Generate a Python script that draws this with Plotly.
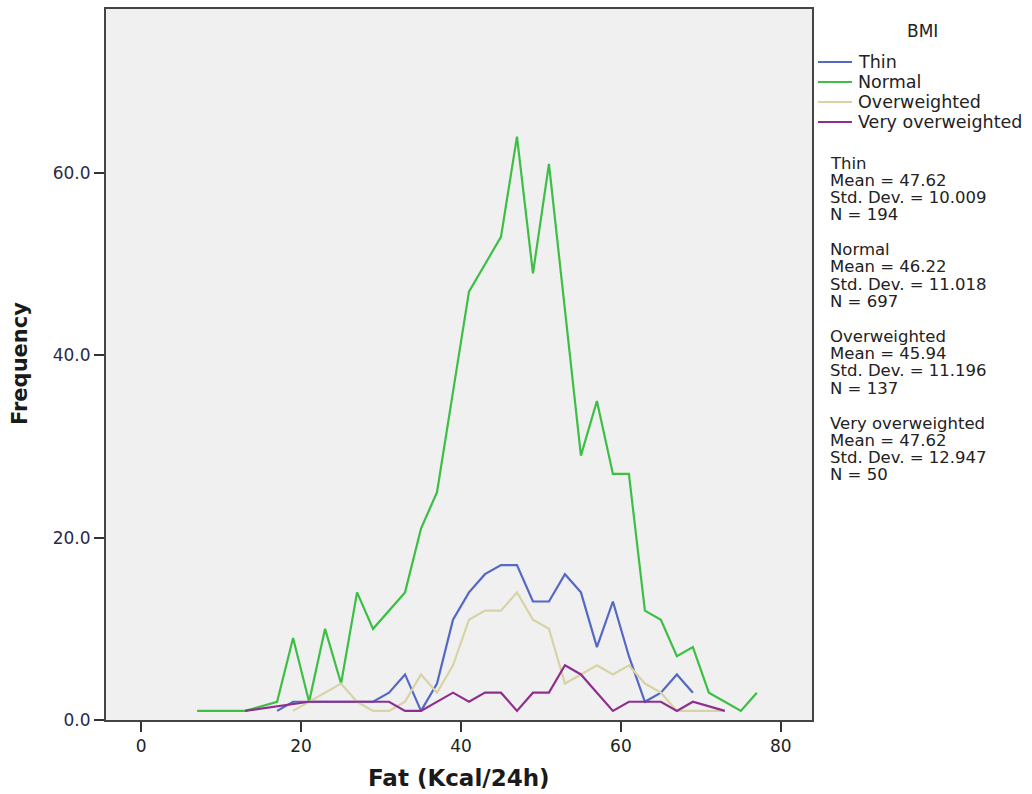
import plotly.graph_objects as go

# ---------------- data ----------------
series_names = ["Thin", "Normal", "Overweighted", "Very overweighted"]
series_colors = ["#5468C4", "#3CBF44", "#D8D3A6", "#8E2F8E"]

thin_x = [17, 19, 21, 27, 29, 31, 33, 35, 37, 39, 41, 43, 45, 47, 49, 51, 53, 55, 57, 59, 61, 63, 65, 67, 69]
thin_y = [1, 2, 2, 2, 2, 3, 5, 1, 4, 11, 14, 16, 17, 17, 13, 13, 16, 14, 8, 13, 7, 2, 3, 5, 3]

normal_x = [7, 9, 11, 13, 17, 19, 21, 23, 25, 27, 29, 31, 33, 35, 37, 39, 41, 43, 45, 47, 49, 51, 53,
            55, 57, 59, 61, 63, 65, 67, 69, 71, 73, 75, 77]
normal_y = [1, 1, 1, 1, 2, 9, 2, 10, 4, 14, 10, 12, 14, 21, 25, 36, 47, 50, 53, 64, 49, 61, 45,
            29, 35, 27, 27, 12, 11, 7, 8, 3, 2, 1, 3]

over_x = [19, 21, 23, 25, 27, 29, 31, 33, 35, 37, 39, 41, 43, 45, 47, 49, 51, 53, 55, 57, 59, 61, 63,
          65, 67, 69, 71, 73]
over_y = [1, 2, 3, 4, 2, 1, 1, 2, 5, 3, 6, 11, 12, 12, 14, 11, 10, 4, 5, 6, 5, 6, 4, 3, 1, 1, 1, 1]

very_x = [13, 21, 31, 33, 35, 37, 39, 41, 43, 45, 47, 49, 51, 53, 55, 57, 59, 61, 65, 67, 69, 73]
very_y = [1, 2, 2, 1, 1, 2, 3, 2, 3, 3, 1, 3, 3, 6, 5, 3, 1, 2, 2, 1, 2, 1]

stat_means = ["47.62", "46.22", "45.94", "47.62"]
stat_sds = ["10.009", "11.018", "11.196", "12.947"]
stat_ns = ["194", "697", "137", "50"]

x_ticks = [0, 20, 40, 60, 80]
y_ticks = [0, 20, 40, 60]

# ---------------- figure ----------------
W, H = 1032, 794
L, R, T, B = 106, 812, 9, 720
pw, ph = R - L, B - T


def px(x):
    return (x - L) / pw


def py(y):
    return (B - y) / ph


fig = go.Figure()
all_x = [thin_x, normal_x, over_x, very_x]
all_y = [thin_y, normal_y, over_y, very_y]
for name, color, xs, ys in zip(series_names, series_colors, all_x, all_y):
    fig.add_trace(go.Scatter(x=xs, y=ys, mode="lines", name=name,
                             line=dict(color=color, width=2.2), showlegend=False))

font_main = "DejaVu Sans"

fig.update_layout(
    width=W, height=H,
    margin=dict(l=L, r=W - R, t=T, b=H - B, autoexpand=False),
    paper_bgcolor="white",
    plot_bgcolor="#F0F0F0",
    font=dict(family=font_main, color="#222222"),
    xaxis=dict(range=[-4.4, 83.9], tickvals=x_ticks, ticks="outside", ticklen=10,
               tickwidth=2, tickcolor="#333333", showgrid=False, zeroline=False,
               showline=True, linecolor="#444444", linewidth=2, mirror=True,
               tickfont=dict(size=17, color="#222222", family=font_main)),
    yaxis=dict(range=[0, 78], tickvals=y_ticks, tickformat=".1f", ticks="outside",
               ticklen=10, tickwidth=2, tickcolor="#333333", showgrid=False,
               zeroline=False, showline=True, linecolor="#444444", linewidth=2,
               mirror=True, tickfont=dict(size=17, color="#2a2a48", family=font_main)),
)

annotations = []
# axis titles
annotations.append(dict(text="<b>Fat (Kcal/24h)</b>", xref="paper", yref="paper",
                        x=0.5, y=py(778), xanchor="center", yanchor="middle",
                        showarrow=False, font=dict(size=23, color="#1a1a1a")))
annotations.append(dict(text="<b>Frequency</b>", xref="paper", yref="paper",
                        x=px(20), y=py(364), xanchor="center", yanchor="middle",
                        textangle=-90, showarrow=False, font=dict(size=21, color="#1a1a1a")))

# legend
annotations.append(dict(text="BMI", xref="paper", yref="paper", x=px(922), y=py(31),
                        xanchor="center", yanchor="middle", showarrow=False,
                        font=dict(size=17, color="#222222")))
shapes = []
for i, (name, color) in enumerate(zip(series_names, series_colors)):
    yy = 62 + i * 20
    shapes.append(dict(type="line", xref="paper", yref="paper", x0=px(818), x1=px(852),
                       y0=py(yy), y1=py(yy), line=dict(color=color, width=2)))
    annotations.append(dict(text=name, xref="paper", yref="paper", x=px(856), y=py(yy),
                            xanchor="left", yanchor="middle", showarrow=False,
                            font=dict(size=17.5, color="#222222")))

# stats blocks
for b, name in enumerate(series_names):
    lines = [name, "Mean = " + stat_means[b], "Std. Dev. = " + stat_sds[b], "N = " + stat_ns[b]]
    for i, txt in enumerate(lines):
        yy = 163 + b * 86.7 + i * 17.2
        annotations.append(dict(text=txt, xref="paper", yref="paper", x=px(828), y=py(yy),
                                xanchor="left", yanchor="middle", showarrow=False,
                                font=dict(size=16.5, color="#222222")))

fig.update_layout(annotations=annotations, shapes=shapes)
fig.write_html("out.html")
